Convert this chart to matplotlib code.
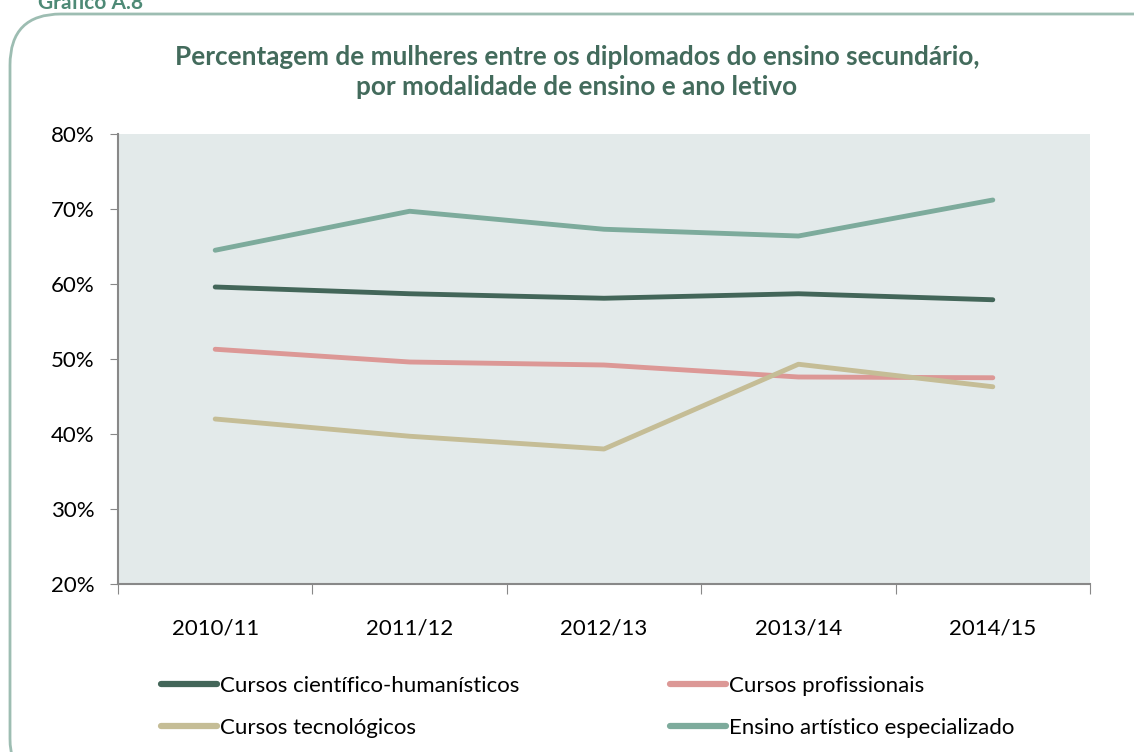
import numpy as np
import matplotlib.pyplot as plt
from matplotlib.patches import FancyBboxPatch
from matplotlib.lines import Line2D

plt.rcParams['font.family'] = ['Lato', 'DejaVu Sans']

# data (percent of women among graduates)
anos = ['2010/11', '2011/12', '2012/13', '2013/14', '2014/15']
cientifico = [59.6, 58.7, 58.1, 58.7, 57.9]
profissionais = [51.3, 49.6, 49.2, 47.6, 47.5]
tecnologicos = [42.0, 39.7, 38.0, 49.3, 46.3]
artistico = [64.5, 69.7, 67.3, 66.4, 71.2]

nomes = ['Cursos científico-humanísticos', 'Cursos profissionais',
         'Cursos tecnológicos', 'Ensino artístico especializado']
cores = ['#436659', '#dc9896', '#c5bd96', '#7dab9c']

W, H = 1134, 752
fig = plt.figure(figsize=(W / 100, H / 100), dpi=100)

# rounded frame + caption cut at the top
frame = FancyBboxPatch((10 / W, -0.05), 1.2, (H - 14) / H + 0.05,
                       boxstyle='round,pad=0,rounding_size=0.045',
                       transform=fig.transFigure, fc='white', ec='#9dbdb2', lw=2,
                       mutation_aspect=W / H, zorder=-10)
fig.patches.append(frame)
fig.text(38 / W, 1.0 - 3 / H, 'Gráfico A.8', color='#4e8a76', fontsize=15,
         fontweight='bold', va='center', ha='left')

fig.text(577 / W, 1 - 72 / H,
         'Percentagem de mulheres entre os diplomados do ensino secundário,\npor modalidade de ensino e ano letivo',
         ha='center', va='center', fontsize=18.8, fontweight='bold', color='#436b5c',
         linespacing=1.3)

ax = fig.add_axes([118 / W, (H - 584) / H, 972 / W, 450 / H])
ax.set_facecolor('#e3eaea')
x = np.arange(len(anos))
series = [cientifico, profissionais, tecnologicos, artistico]
for vals, cor, nome in zip(series, cores, nomes):
    ax.plot(x, vals, color=cor, lw=3.5, solid_capstyle='round', label=nome)

ax.set_xlim(-0.5, len(anos) - 0.5)
ax.set_ylim(20, 80)
ax.set_yticks(np.arange(20, 81, 10))
ax.set_yticklabels([f'{v}%' for v in range(20, 81, 10)], fontsize=16)
ax.set_xticks(np.arange(-0.5, len(anos), 1))
ax.set_xticklabels([])
ax.set_xticks(x, minor=True)
ax.set_xticklabels(anos, minor=True, fontsize=16)
ax.tick_params(axis='x', which='minor', length=0, pad=25)
ax.tick_params(axis='x', which='major', length=7, color='#888888', direction='out')
ax.tick_params(axis='y', length=6, color='#888888', direction='out', pad=11)
for s in ['top', 'right']:
    ax.spines[s].set_visible(False)
for s in ['left', 'bottom']:
    ax.spines[s].set_color('#888888')
    ax.spines[s].set_linewidth(1.5)

hs = [Line2D([], [], color=c, lw=4.5, solid_capstyle='round') for c in cores]
leg1 = fig.legend([hs[0], hs[2]], [nomes[0], nomes[2]], loc='upper left',
                  bbox_to_anchor=(141 / W, 1 - 656 / H), frameon=False, fontsize=16,
                  handlelength=2.5, handletextpad=0.15, labelspacing=1.0)
leg2 = fig.legend([hs[1], hs[3]], [nomes[1], nomes[3]], loc='upper left',
                  bbox_to_anchor=(650 / W, 1 - 656 / H), frameon=False, fontsize=16,
                  handlelength=2.5, handletextpad=0.15, labelspacing=1.0)

fig.savefig('out.png', dpi=100)
